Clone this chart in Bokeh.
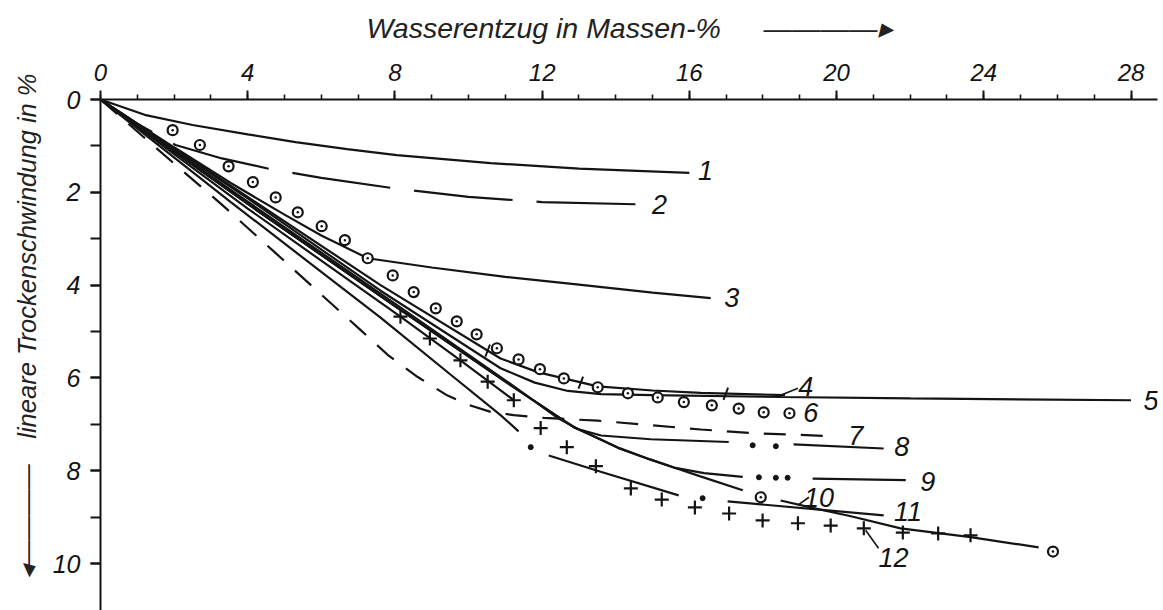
import math
from bokeh.plotting import figure
from bokeh.models import Range1d, FixedTicker, Label, Title
from bokeh.embed import file_html
from bokeh.resources import INLINE

NaN = float("nan")

# ---------------- data ----------------
x_ticks = [0, 4, 8, 12, 16, 20, 24, 28]
x_minor = list(range(0, 29))
y_ticks = [0, 2, 4, 6, 8, 10]
y_minor = list(range(0, 11))

c1_x = [0, 1.2, 2.5, 4.0, 5.3, 6.7, 8.05, 10.6, 13.0, 16.0]
c1_y = [0, 0.33, 0.55, 0.75, 0.92, 1.07, 1.2, 1.37, 1.49, 1.58]

c2_x = [0, 1.0, 2.04, 3.3, 4.62, 6.0, 8.03, 10.0, 12.0, 14.68]
c2_y = [0, 0.52, 0.98, 1.27, 1.5, 1.69, 1.92, 2.1, 2.21, 2.26]

c3_x = [0, 1.0, 2.0, 3.54, 5.0, 6.0, 7.26, 9.0, 11.0, 13.0, 15.0, 16.58]
c3_y = [0, 0.52, 1.03, 1.8, 2.48, 2.93, 3.42, 3.62, 3.82, 3.99, 4.16, 4.28]

c4_x = [0, 4.0, 7.61, 10.87, 11.9, 12.59, 13.51, 15.0, 16.31, 18.6]
c4_y = [0, 2.1, 4.0, 5.58, 5.88, 6.01, 6.18, 6.27, 6.32, 6.37]
c4_tick_x = [10.52, 13.05, 16.99]
c4_tick_y = [5.41, 6.10, 6.34]

c5_x = [0, 4.0, 7.61, 10.87, 11.8, 12.7, 13.6, 15.0, 18.5, 22.0, 28.0]
c5_y = [0, 2.13, 4.12, 5.79, 6.1, 6.28, 6.35, 6.37, 6.41, 6.44, 6.48]

c6_x = [1.96, 2.70, 3.48, 4.14, 4.76, 5.36, 6.01, 6.64, 7.26, 7.94, 8.51, 9.11, 9.68,
        10.22, 10.77, 11.36, 11.94, 12.59, 13.51, 14.33, 15.14, 15.85, 16.61, 17.34,
        18.02, 18.72]
c6_y = [0.66, 0.98, 1.44, 1.78, 2.11, 2.43, 2.73, 3.03, 3.42, 3.79, 4.15, 4.50, 4.78,
        5.06, 5.36, 5.60, 5.81, 6.01, 6.20, 6.33, 6.42, 6.52, 6.59, 6.66, 6.74, 6.76]

c7_x = [0, 2.0, 3.32, 4.76, 6.26, 7.07, 7.83, 8.62, 9.43, 10.0, 10.6, 11.23, 12.04,
        13.51, 15.0, 16.31, 17.75, 18.83, 20.03]
c7_y = [0, 1.38, 2.28, 3.31, 4.39, 4.97, 5.52, 5.98, 6.38, 6.58, 6.73, 6.8, 6.86,
        6.92, 7.02, 7.11, 7.19, 7.22, 7.26]

c8_x = [0, 4.0, 8.0, 11.0, 12.4, 12.97, 13.6, 14.95, 17.07, NaN, 18.83, 21.28]
c8_y = [0, 2.2, 4.4, 6.05, 6.85, 7.1, 7.24, 7.32, 7.38, NaN, 7.43, 7.52]
c8_dot_x = [17.72, 18.35]
c8_dot_y = [7.45, 7.47]

c9_x = [0, 4.0, 8.0, 11.0, 12.86, 13.3, 14.05, 14.95, 15.58, 16.4, 17.45, NaN, 19.35, 21.88]
c9_y = [0, 2.25, 4.45, 6.08, 7.06, 7.22, 7.5, 7.76, 7.93, 8.05, 8.13, NaN, 8.17, 8.2]
c9_dot_x = [17.89, 18.35, 18.67]
c9_dot_y = [8.14, 8.15, 8.15]

c10_x = [0, 4.0, 8.0, 11.0, 12.86, 13.3, 14.05, 14.95, 15.58, 16.3, 17.45, NaN,
         18.48, 19.35, 20.39, 21.74, 23.64, 25.49]
c10_y = [0, 2.25, 4.45, 6.08, 7.06, 7.22, 7.5, 7.76, 7.93, 8.12, 8.42, NaN,
         8.64, 8.8, 8.98, 9.24, 9.43, 9.65]
c10_mark_x = [17.94, 25.88]
c10_mark_y = [8.57, 9.74]

c11_x = [0, 3.54, 7.61, 9.5, 10.87, 11.36, NaN, 12.18, 13.59, 15.71, NaN, 17.04, 21.28]
c11_y = [0, 2.21, 4.7, 5.92, 6.8, 7.15, NaN, 7.67, 8.02, 8.53, NaN, 8.66, 8.96]
c11_dot_x = [11.69, 16.36]
c11_dot_y = [7.49, 8.59]

c12_x = [0, 4.0, 8.15, 9.78, 11.23]
c12_y = [0, 2.35, 4.68, 5.62, 6.48]
c12_cross_x = [8.15, 8.95, 9.78, 10.52, 11.23, 11.96, 12.67, 13.46, 14.41, 15.25, 16.15,
               17.08, 17.99, 18.95, 19.84, 20.74, 21.8, 22.76, 23.64]
c12_cross_y = [4.68, 5.15, 5.62, 6.08, 6.48, 7.08, 7.49, 7.9, 8.38, 8.62, 8.79,
               8.92, 9.07, 9.13, 9.18, 9.24, 9.33, 9.35, 9.39]

curve_labels = ["1", "2", "3", "4", "5", "6", "7", "8", "9", "10", "11", "12"]
label_x = [16.44, 15.19, 17.15, 19.16, 28.34, 19.3, 20.52, 21.77, 22.48, 19.52, 21.94, 21.55]
label_y = [1.52, 2.27, 4.26, 6.18, 6.48, 6.74, 7.23, 7.47, 8.23, 8.57, 8.87, 9.86]
label_align = ["center"] * 4 + ["left"] + ["center"] * 7

x_title = "Wasserentzug in Massen-%"
y_title = "lineare Trockenschwindung in %"

# ---------------- figure ----------------
INK = "#141414"
DIGIT_FONT = "Liberation Sans Narrow, Liberation Sans, sans-serif"
TEXT_FONT = "Liberation Sans, Arial, sans-serif"

p = figure(width=1163, height=610,
           x_range=Range1d(0, 28.72), y_range=Range1d(11.01, 0),
           x_axis_location="above",
           output_backend="svg", toolbar_location=None,
           min_border_left=100, min_border_right=6,
           min_border_top=99, min_border_bottom=0)
p.outline_line_color = None
p.grid.visible = False
p.background_fill_color = "white"
p.border_fill_color = "white"

xa = p.xaxis[0]
xa.ticker = FixedTicker(ticks=x_ticks, minor_ticks=x_minor)
xa.axis_line_width = 2
xa.axis_line_color = INK
xa.major_tick_line_width = 2
xa.major_tick_line_color = INK
xa.major_tick_out = 9
xa.major_tick_in = 0
xa.minor_tick_out = 5
xa.minor_tick_in = 0
xa.minor_tick_line_width = 1.6
xa.minor_tick_line_color = INK
xa.major_label_text_font = DIGIT_FONT
xa.major_label_text_font_style = "italic"
xa.major_label_text_font_size = "24px"
xa.major_label_text_color = INK
xa.major_label_standoff = 10
# axis title followed by its arrow
xa.axis_label = x_title + "\u2003\u2002" + "\u2014" * 4 + "\u25b8"
xa.axis_label_text_font = TEXT_FONT
xa.axis_label_text_font_style = "italic"
xa.axis_label_text_font_size = "28.5px"
xa.axis_label_text_color = "#222222"
xa.axis_label_standoff = 17

ya = p.yaxis[0]
ya.ticker = FixedTicker(ticks=y_ticks, minor_ticks=y_minor)
ya.axis_line_width = 2
ya.axis_line_color = INK
ya.major_tick_line_width = 2
ya.major_tick_line_color = INK
ya.major_tick_out = 10
ya.major_tick_in = 0
ya.minor_tick_out = 10
ya.minor_tick_in = 0
ya.minor_tick_line_width = 2
ya.minor_tick_line_color = INK
ya.major_label_text_font = DIGIT_FONT
ya.major_label_text_font_style = "italic"
ya.major_label_text_font_size = "25px"
ya.major_label_text_color = INK
ya.major_label_standoff = 10

# y title (reads bottom to top) with its downward arrow, in the left panel
yt = Title(text="\u25c2" + "\u2014" * 4 + "\u2003" + y_title,
           align="right", offset=-26, vertical_align="bottom", standoff=18,
           text_font=TEXT_FONT, text_font_style="italic", text_font_size="25.5px",
           text_color="#222222")
p.add_layout(yt, "left")

LW = 2.2
p.line(c1_x, c1_y, line_color=INK, line_width=LW)
p.line(c2_x, c2_y, line_color=INK, line_width=LW, line_dash="99 24", line_dash_offset=38)
p.line(c3_x, c3_y, line_color=INK, line_width=LW)
p.line(c4_x, c4_y, line_color=INK, line_width=LW)
p.scatter(c4_tick_x, c4_tick_y, marker="dash", angle=math.pi / 2.6, size=13,
          line_color=INK, line_width=2)
p.line(c5_x, c5_y, line_color=INK, line_width=LW)
p.scatter(c6_x, c6_y, marker="circle_dot", size=10, line_color=INK, line_width=2.2,
          fill_color="white")
p.line(c7_x, c7_y, line_color=INK, line_width=LW, line_dash="22 15")
p.line(c8_x, c8_y, line_color=INK, line_width=LW)
p.scatter(c8_dot_x, c8_dot_y, marker="circle", size=5, color=INK)
p.line(c9_x, c9_y, line_color=INK, line_width=LW)
p.scatter(c9_dot_x, c9_dot_y, marker="circle", size=5, color=INK)
p.line(c10_x, c10_y, line_color=INK, line_width=LW)
p.scatter(c10_mark_x, c10_mark_y, marker="circle_dot", size=10, line_color=INK,
          line_width=2.2, fill_color="white")
p.line(c11_x, c11_y, line_color=INK, line_width=LW)
p.scatter(c11_dot_x, c11_dot_y, marker="circle", size=5, color=INK)
p.line(c12_x, c12_y, line_color=INK, line_width=LW)
p.scatter(c12_cross_x, c12_cross_y, marker="cross", size=14, line_color=INK, line_width=2.2)

# leader lines for labels 4, 10, 12
p.segment(x0=[18.48, 18.95, 20.79], y0=[6.37, 8.74, 9.28],
          x1=[18.95, 19.25, 21.14], y1=[6.22, 8.57, 9.67], line_color=INK, line_width=1.6)

for t, lx, ly, al in zip(curve_labels, label_x, label_y, label_align):
    p.add_layout(Label(x=lx, y=ly, text=t, text_align=al, text_baseline="middle",
                       text_font=DIGIT_FONT, text_font_style="italic",
                       text_font_size="27px", text_color=INK))

open("out.html", "w").write(file_html(p, INLINE))
